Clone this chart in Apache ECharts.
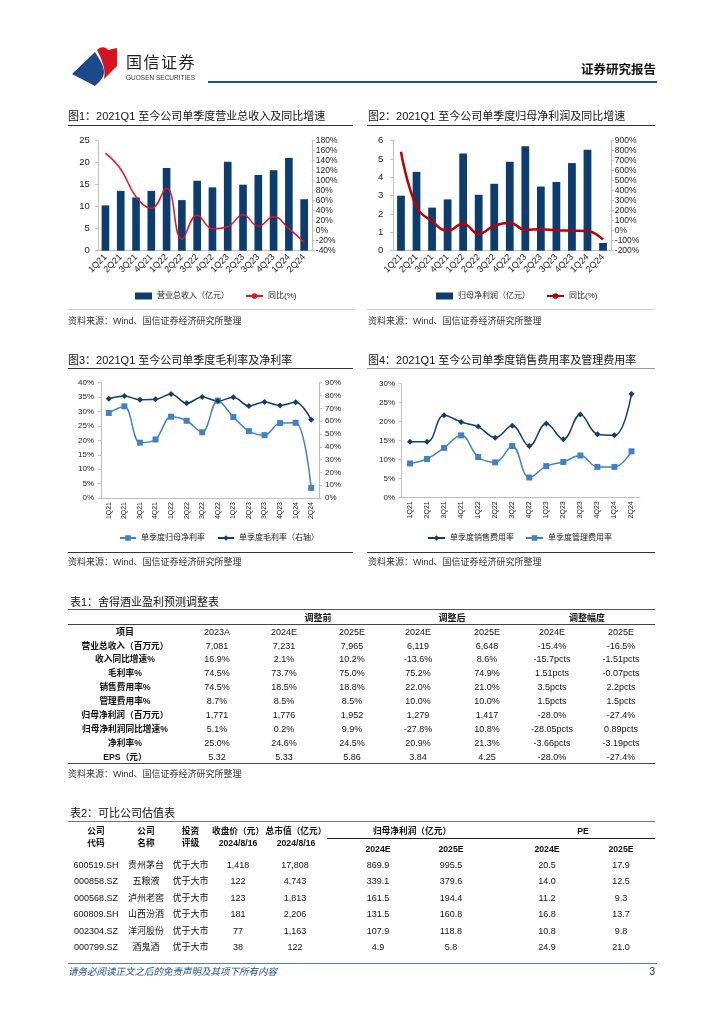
<!DOCTYPE html>
<html><head><meta charset="utf-8">
<script src="https://cdn.jsdelivr.net/npm/echarts@6.0.0/dist/echarts.min.js"></script>
<style>
html,body{margin:0;padding:0;background:#fff;}
#page{position:relative;width:724px;height:1024px;overflow:hidden;font-family:"Liberation Sans","Noto Sans CJK SC",sans-serif;color:#111;}
#chart{position:absolute;left:0;top:0;width:724px;height:1024px;}
.t{position:absolute;white-space:nowrap;line-height:1;}
.hl{position:absolute;height:0;}
</style></head><body>
<div id="page">
<div id="chart"></div>
<svg style="position:absolute;left:0;top:0" width="724" height="100">
  <path d="M72,74 L95,52 C99,59 104,65 104,72 C104,78 99,82 95,86 Z" fill="#1b4a8a"/>
  <path d="M97,50 C101,46 106,47 108,50 L117,48 L117,66 L104,79 C106,68 101,58 97,50 Z" fill="#d7141e"/>
</svg>
</div>
<script>
// ---------- data ----------
const quarters = ['1Q21','2Q21','3Q21','4Q21','1Q22','2Q22','3Q22','4Q22','1Q23','2Q23','3Q23','4Q23','1Q24','2Q24'];
const revenue = [10.3,13.6,12.1,13.6,18.8,11.5,15.9,14.4,20.2,15.0,17.2,18.3,21.1,11.7];
const revenueYoY = [155,123,68,45,85,-17,31,4,8,32,9,28,4,-23];
const netProfit = [3.0,4.3,2.35,2.8,5.3,3.05,3.65,4.85,5.7,3.5,3.75,4.78,5.5,0.42];
const netProfitYoY = [790,240,95,0,70,-32,50,80,9,15,4,0,-3,-90];
const netMargin = [29.5,31.8,19.2,20.3,28.2,26.8,22.8,33.8,28.1,23.2,21.8,26.0,26.1,3.5];
const grossMargin = [77.5,79.6,76.7,77.0,81.2,73.9,78.8,75.7,78.6,71.8,74.9,72.3,74.7,61.1];
const salesExpRate = [14.6,14.6,21.6,19.8,18.6,15.7,18.8,13.5,19.4,15.3,21.8,16.6,16.3,27.2];
const adminExpRate = [8.9,10.1,13.0,16.3,10.6,9.2,13.5,5.2,8.2,9.3,11.0,8.0,8.0,12.1];

const t1Groups = ['调整前','调整后','调整幅度'];
const t1Cols = ['2023A','2024E','2025E','2024E','2025E','2024E','2025E'];
const t1Labels = ['营业总收入（百万元）','收入同比增速%','毛利率%','销售费用率%','管理费用率%','归母净利润（百万元）','归母净利润同比增速%','净利率%','EPS（元）'];
const t1Rows = [
  ['7,081','7,231','7,965','6,119','6,648','-15.4%','-16.5%'],
  ['16.9%','2.1%','10.2%','-13.6%','8.6%','-15.7pcts','-1.51pcts'],
  ['74.5%','73.7%','75.0%','75.2%','74.9%','1.51pcts','-0.07pcts'],
  ['74.5%','18.5%','18.8%','22.0%','21.0%','3.5pcts','2.2pcts'],
  ['8.7%','8.5%','8.5%','10.0%','10.0%','1.5pcts','1.5pcts'],
  ['1,771','1,776','1,952','1,279','1,417','-28.0%','-27.4%'],
  ['5.1%','0.2%','9.9%','-27.8%','10.8%','-28.05pcts','0.89pcts'],
  ['25.0%','24.6%','24.5%','20.9%','21.3%','-3.66pcts','-3.19pcts'],
  ['5.32','5.33','5.86','3.84','4.25','-28.0%','-27.4%']
];
const t2Codes = ['600519.SH','000858.SZ','000568.SZ','600809.SH','002304.SZ','000799.SZ'];
const t2Names = ['贵州茅台','五粮液','泸州老窖','山西汾酒','洋河股份','酒鬼酒'];
const t2Ratings = ['优于大市','优于大市','优于大市','优于大市','优于大市','优于大市'];
const t2Price = ['1,418','122','123','181','77','38'];
const t2MktCap = ['17,808','4,743','1,813','2,206','1,163','122'];
const t2NP2024 = ['869.9','339.1','161.5','131.5','107.9','4.9'];
const t2NP2025 = ['995.5','379.6','194.4','160.8','118.8','5.8'];
const t2PE2024 = ['20.5','14.0','11.2','16.8','10.8','24.9'];
const t2PE2025 = ['17.9','12.5','9.3','13.7','9.8','21.0'];

// ---------- text helpers ----------
const page = document.getElementById('page');
function txt(s, x, y, o) {
  o = o || {};
  const d = document.createElement('div'); d.className = 't'; d.textContent = s;
  d.style.left = x + 'px'; d.style.top = y + 'px';
  d.style.fontSize = (o.size || 9) + 'px';
  if (o.bold) d.style.fontWeight = 'bold';
  d.style.color = o.color || '#111';
  if (o.italic) d.style.fontStyle = 'italic';
  if (o.ls) d.style.letterSpacing = o.ls + 'px';
  const a = o.align || 'center';
  d.style.transform = a === 'center' ? 'translate(-50%,-50%)' : a === 'right' ? 'translate(-100%,-50%)' : 'translate(0,-50%)';
  page.appendChild(d);
}
function hline(x1, x2, y, w, c) {
  const d = document.createElement('div'); d.className = 'hl';
  d.style.left = x1 + 'px'; d.style.width = (x2 - x1) + 'px';
  d.style.top = (y - w / 2) + 'px'; d.style.borderTop = w + 'px solid ' + c;
  page.appendChild(d);
}

// header
txt('国信证券', 126, 63, {size: 16, align: 'left', color: '#222', ls: 1.5});
txt('GUOSEN SECURITIES', 126, 78, {size: 6.5, align: 'left', color: '#333'});
txt('证券研究报告', 656, 70, {size: 12.5, bold: true, align: 'right', color: '#111'});
hline(208, 657, 82, 2.5, '#1f4e8c');

// chart titles / rules / sources
const SRC = '资料来源：Wind、国信证券经济研究所整理';
txt('图1：2021Q1 至今公司单季度营业总收入及同比增速', 68, 116, {size: 11, align: 'left'});
txt('图2：2021Q1 至今公司单季度归母净利润及同比增速', 368, 116, {size: 11, align: 'left'});
hline(68, 353, 125, 1, '#333'); hline(367, 655, 125, 1, '#333');
hline(68, 355, 309, 1, '#ccc'); hline(367, 655, 309, 1, '#ccc');
txt(SRC, 68, 321, {size: 9, align: 'left', color: '#333'});
txt(SRC, 368, 321, {size: 9, align: 'left', color: '#333'});

txt('图3：2021Q1 至今公司单季度毛利率及净利率', 68, 360, {size: 11, align: 'left'});
txt('图4：2021Q1 至今公司单季度销售费用率及管理费用率', 368, 360, {size: 11, align: 'left'});
hline(68, 353, 368, 1, '#333'); hline(367, 655, 368, 1, '#999');
hline(68, 353, 552, 1, '#333'); hline(367, 655, 552, 1, '#333');
txt(SRC, 68, 562, {size: 9, align: 'left', color: '#333'});
txt(SRC, 368, 562, {size: 9, align: 'left', color: '#333'});

// table 1
const t1X = [217, 284, 352, 418, 487, 552, 621];
const t1GX = [318, 452, 587];
txt('表1：舍得酒业盈利预测调整表', 70, 602, {size: 11, align: 'left'});
hline(68, 655, 610, 1.5, '#555');
t1Groups.forEach((g, i) => txt(g, t1GX[i], 618, {size: 9, bold: true}));
hline(68, 655, 624.5, 1, '#444');
txt('项目', 125, 632, {size: 9, bold: true});
t1Cols.forEach((c, i) => txt(c, t1X[i], 632, {size: 9}));
t1Labels.forEach((lab, r) => {
  const y = 645.5 + r * 13.9;
  txt(lab, 125, y, {size: 8.7, bold: true});
  t1Rows[r].forEach((v, i) => txt(v, t1X[i], y, {size: 9}));
});
hline(68, 655, 763.5, 1.5, '#444');
txt(SRC, 68, 774, {size: 9, align: 'left', color: '#333'});

// table 2
txt('表2：可比公司估值表', 70, 813, {size: 11, align: 'left'});
hline(68, 655, 821.5, 1.5, '#777');
const h2 = [['公司','代码',96],['公司','名称',146],['投资','评级',190.5],['收盘价（元）','2024/8/16',238],['总市值（亿元）','2024/8/16',296]];
h2.forEach(h => { txt(h[0], h[2], 831, {size: 8.7, bold: true}); txt(h[1], h[2], 843, {size: 8.7, bold: true}); });
txt('归母净利润（亿元）', 412, 831, {size: 8.7, bold: true});
txt('PE', 583, 831, {size: 8.7, bold: true});
hline(327, 655, 838, 1, '#222');
const t2X = [96, 146, 190.5, 238, 295, 378, 451, 547, 621];
['2024E','2025E','2024E','2025E'].forEach((c, i) => txt(c, t2X[5 + i], 849, {size: 8.7, bold: true}));
t2Codes.forEach((c, r) => {
  const y = 864.5 + r * 16.5;
  const vals = [t2Codes[r], t2Names[r], t2Ratings[r], t2Price[r], t2MktCap[r], t2NP2024[r], t2NP2025[r], t2PE2024[r], t2PE2025[r]];
  vals.forEach((v, i) => txt(v, t2X[i], y, {size: 9}));
});

// footer
hline(68, 657, 963, 1, '#4f7fb3');
txt('请务必阅读正文之后的免责声明及其项下所有内容', 68, 972, {size: 9.5, italic: true, align: 'left', color: '#1f4e8c'});
txt('3', 655, 972, {size: 10, align: 'right', color: '#222'});

// ---------- charts ----------
const F = '"Liberation Sans","Noto Sans CJK SC",sans-serif';
const AX = '#bfbfbf';
const NAVY = '#0b3d71', LBLUE = '#3f83c6', DNAVY = '#143d6e';
function xa(grid, rot, size, margin) {
  return {type: 'category', gridIndex: grid, data: quarters, boundaryGap: true,
    axisLine: {lineStyle: {color: AX}}, axisTick: {show: false},
    axisLabel: {rotate: rot, fontSize: size, color: '#222', margin: margin, interval: 0, fontFamily: F}};
}
function ya(grid, pos, min, max, interval, pct, size, margin) {
  return {type: 'value', gridIndex: grid, position: pos, min: min, max: max, interval: interval,
    splitLine: {show: false}, axisLine: {show: true, lineStyle: {color: AX}},
    axisTick: {show: true, length: 3, lineStyle: {color: AX}},
    axisLabel: {fontSize: size, color: '#222', margin: margin, fontFamily: F, formatter: pct ? '{value}%' : '{value}'}};
}
const lg = {fontSize: 8, fontFamily: F, color: '#222'};
const chart = echarts.init(document.getElementById('chart'));
chart.setOption({
  animation: false,
  grid: [
    {left: 97.8, top: 140.7, width: 214, height: 110},
    {left: 393.2, top: 140.7, width: 217.6, height: 110},
    {left: 101, top: 382.7, width: 218, height: 115.3},
    {left: 401.5, top: 383.3, width: 238.5, height: 114}
  ],
  xAxis: [xa(0, 45, 9, 5), xa(1, 45, 9, 5), xa(2, 90, 7, 4), xa(3, 90, 7, 4)],
  yAxis: [
    ya(0, 'left', 0, 25, 5, false, 9.5, 8),
    ya(0, 'right', -40, 180, 20, true, 8.5, 4),
    ya(1, 'left', 0, 6, 1, false, 9.5, 10),
    ya(1, 'right', -200, 900, 100, true, 8.5, 4),
    ya(2, 'left', 0, 40, 5, true, 8, 7),
    ya(2, 'right', 0, 90, 10, true, 8, 6),
    ya(3, 'left', 0, 30, 5, true, 8, 6.5)
  ],
  legend: [
    {data: [{name: '营业总收入（亿元）', icon: 'rect'}, '同比(%)'], left: 130, top: 287, itemWidth: 17, itemHeight: 7, itemGap: 16, textStyle: lg},
    {data: [{name: '归母净利润（亿元）', icon: 'rect'}, '同比(%)\u200b'], left: 431, top: 287, itemWidth: 17, itemHeight: 7, itemGap: 16, textStyle: lg},
    {data: ['单季度归母净利率', '单季度毛利率（右轴）'], left: 114, top: 529, itemWidth: 16, itemHeight: 7, itemGap: 12, textStyle: lg},
    {data: ['单季度销售费用率', '单季度管理费用率'], left: 422, top: 529, itemWidth: 17, itemHeight: 7, itemGap: 11, textStyle: lg}
  ],
  series: [
    {name: '营业总收入（亿元）', type: 'bar', xAxisIndex: 0, yAxisIndex: 0, data: revenue, barWidth: '50%', itemStyle: {color: NAVY}},
    {name: '同比(%)', type: 'line', xAxisIndex: 0, yAxisIndex: 1, data: revenueYoY, smooth: 0.45, symbol: 'none', lineStyle: {color: '#e3151e', width: 1.5}, itemStyle: {color: '#e3151e'}},
    {name: '归母净利润（亿元）', type: 'bar', xAxisIndex: 1, yAxisIndex: 2, data: netProfit, barWidth: '50%', itemStyle: {color: NAVY}},
    {name: '同比(%)\u200b', type: 'line', xAxisIndex: 1, yAxisIndex: 3, data: netProfitYoY, smooth: 0.45, symbol: 'none', lineStyle: {color: '#c00000', width: 2.5}, itemStyle: {color: '#c00000'}},
    {name: '单季度归母净利率', type: 'line', xAxisIndex: 2, yAxisIndex: 4, data: netMargin, smooth: 0.35, symbol: 'rect', symbolSize: 6, lineStyle: {color: LBLUE, width: 1.5}, itemStyle: {color: LBLUE}},
    {name: '单季度毛利率（右轴）', type: 'line', xAxisIndex: 2, yAxisIndex: 5, data: grossMargin, smooth: 0.35, symbol: 'diamond', symbolSize: 6, lineStyle: {color: DNAVY, width: 1.5}, itemStyle: {color: DNAVY}},
    {name: '单季度销售费用率', type: 'line', xAxisIndex: 3, yAxisIndex: 6, data: salesExpRate, smooth: 0.4, symbol: 'diamond', symbolSize: 6, lineStyle: {color: DNAVY, width: 1.5}, itemStyle: {color: DNAVY}},
    {name: '单季度管理费用率', type: 'line', xAxisIndex: 3, yAxisIndex: 6, data: adminExpRate, smooth: 0.4, symbol: 'rect', symbolSize: 6, lineStyle: {color: LBLUE, width: 1.5}, itemStyle: {color: LBLUE}}
  ]
});
</script>
</body></html>
